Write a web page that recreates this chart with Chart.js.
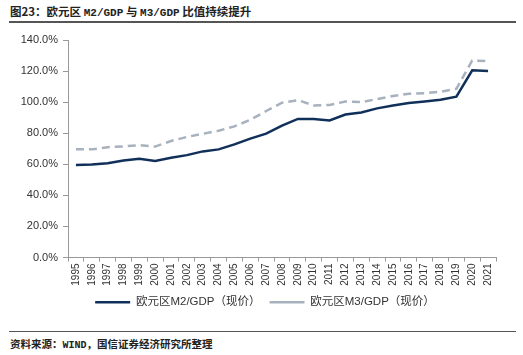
<!DOCTYPE html>
<html>
<head>
<meta charset="utf-8">
<script src="https://cdn.jsdelivr.net/npm/chart.js@4.4.1/dist/chart.umd.min.js"></script>
<style>
  html, body { margin: 0; padding: 0; background: #fff; }
  body { width: 523px; height: 355px; position: relative; overflow: hidden; }
  #title { position: absolute; left: 10px; top: 3px; font: bold 11.5px "Noto Sans CJK SC", sans-serif; color: #222; white-space: nowrap; }
  #title .m { font-family: "Liberation Mono", "DejaVu Sans Mono", monospace; font-size: 11px; }
  #rule1 { position: absolute; left: 9px; width: 507px; top: 21px; height: 2px; background: #555; }
  #rule2 { position: absolute; left: 9px; width: 507px; top: 331px; height: 1px; background: #555; }
  #foot { position: absolute; left: 10px; top: 336px; font: bold 10.5px "Noto Sans CJK SC", sans-serif; color: #222; white-space: nowrap; }
  #foot .m { font-family: "Liberation Mono", "DejaVu Sans Mono", monospace; font-size: 10px; }
  #wrap { position: absolute; left: 0; top: 28px; width: 523px; height: 290px; }
</style>
</head>
<body>
<div id="title">图23：欧元区 <span class="m">M2/GDP</span> 与 <span class="m">M3/GDP</span> 比值持续提升</div>
<div id="rule1"></div>
<div id="wrap"><canvas id="c"></canvas></div>
<div id="rule2"></div>
<div id="foot">资料来源：<span class="m">WIND</span>，国信证券经济研究所整理</div>
<script>
const years = ["1995","1996","1997","1998","1999","2000","2001","2002","2003","2004","2005","2006","2007","2008","2009","2010","2011","2012","2013","2014","2015","2016","2017","2018","2019","2020","2021"];
const m2gdp = [59.6,59.8,60.7,62.4,63.5,62.2,64.2,65.9,68.3,69.6,72.8,76.5,79.7,84.9,89.2,89.1,88.2,92.0,93.4,96.0,97.8,99.5,100.4,101.5,103.5,120.5,120.0];
const m3gdp = [69.6,69.6,71.0,71.5,72.3,71.4,75.0,77.6,79.6,81.6,84.4,88.6,94.3,99.6,101.3,97.9,98.2,100.4,100.0,102.0,103.9,105.4,105.8,106.7,108.6,126.8,126.4];
const seriesNames = ["欧元区M2/GDP（现价）", "欧元区M3/GDP（现价）"];
const yTicks = { min: 0, max: 140, step: 20 };

const legendShift = {
  id: 'legendShift',
  afterLayout(chart) {
    if (chart.legend) { chart.legend.left += 17; chart.legend.right += 17; }
  }
};

const tickFont = { family: "Liberation Sans, Arial, sans-serif", size: 11 };
new Chart(document.getElementById('c'), {
  type: 'line',
  data: {
    labels: years,
    datasets: [
      { label: seriesNames[0], data: m2gdp, borderColor: '#10305a', backgroundColor: '#10305a', borderWidth: 2.5, pointRadius: 0, tension: 0, fill: false },
      { label: seriesNames[1], data: m3gdp, borderColor: '#a8b1be', backgroundColor: '#a8b1be', borderWidth: 2.5, borderDash: [8, 5], pointRadius: 0, tension: 0, fill: false }
    ]
  },
  plugins: [legendShift],
  options: {
    responsive: true,
    maintainAspectRatio: false,
    animation: false,
    layout: { padding: { left: 0, right: 27, top: 12, bottom: 0 } },
    plugins: {
      tooltip: { enabled: false },
      legend: {
        position: 'bottom',
        labels: {
          usePointStyle: true,
          pointStyle: 'line',
          pointStyleWidth: 35,
          boxHeight: 8,
          padding: 9,
          color: '#333',
          font: { family: "Liberation Sans, 'Noto Sans CJK SC', sans-serif", size: 11.5 }
        }
      }
    },
    scales: {
      x: {
        type: 'category',
        offset: true,
        grid: { display: true, drawOnChartArea: false, offset: true, color: '#999', tickLength: 4 },
        border: { color: '#999', width: 1 },
        ticks: { autoSkip: false, maxRotation: 90, minRotation: 90, color: '#333', font: { family: "Liberation Sans, Arial, sans-serif", size: 10 }, padding: 2 },
        afterFit: s => { s.height = 30; }
      },
      y: {
        min: yTicks.min, max: yTicks.max,
        grid: { display: true, drawOnChartArea: false, color: '#999', tickLength: 5 },
        border: { color: '#999', width: 1 },
        ticks: { stepSize: yTicks.step, color: '#333', font: tickFont, padding: 5, callback: v => v.toFixed(1) + '%' },
        afterFit: s => { s.width = 68; }
      }
    }
  }
});
</script>
</body>
</html>
